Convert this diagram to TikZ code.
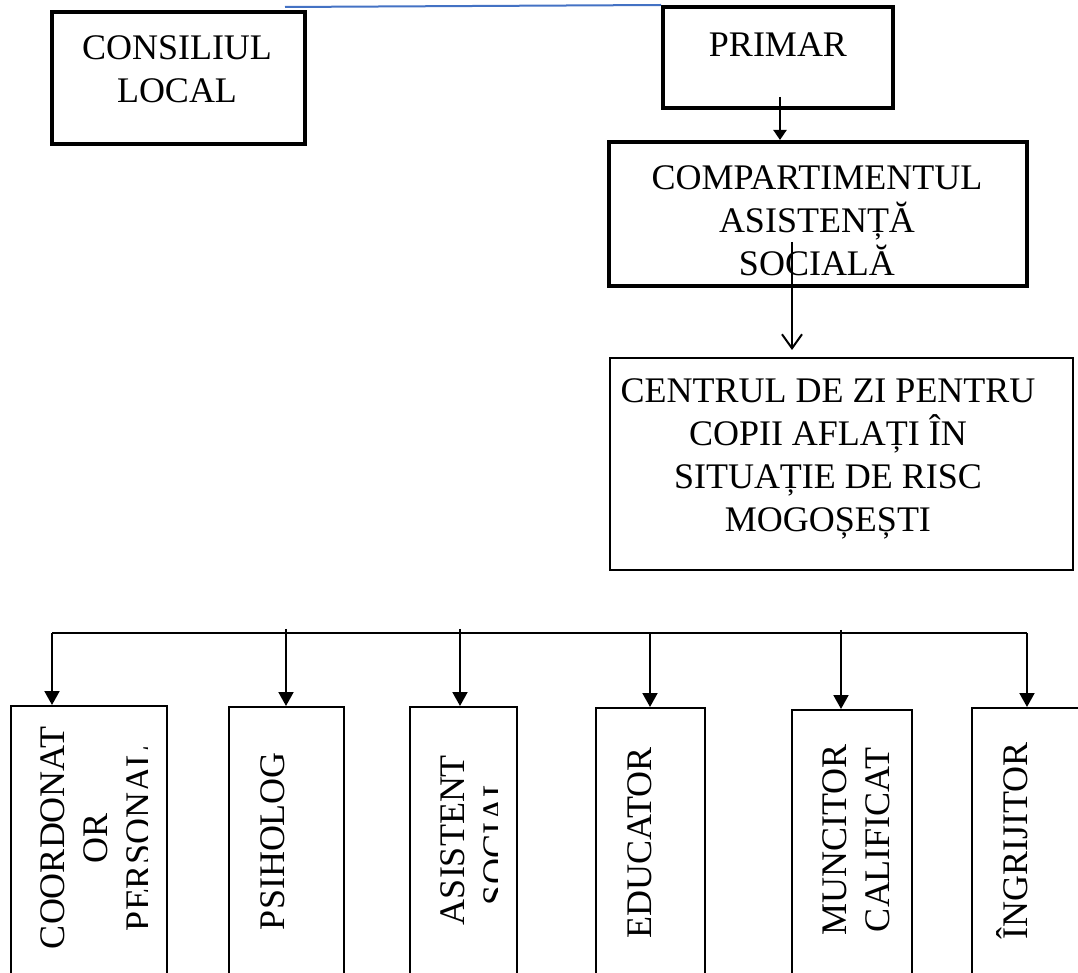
\documentclass[tikz,border=0pt]{standalone}
\usepackage{fontspec}
\setmainfont{Liberation Serif}
\usetikzlibrary{arrows.meta}

\begin{document}
\begin{tikzpicture}[x=0.5pt,y=-0.5pt,
    box/.style={draw,inner sep=0pt,line width=2pt},
    thinbox/.style={draw,inner sep=0pt,line width=1pt},
    txt/.style={inner sep=0pt,anchor=north,align=center,font=\fontsize{18}{21.5}\selectfont},
    vtxt/.style={txt,rotate=90},
    arr/.style={line width=1pt,-{Triangle[width=7.5pt,length=7pt]}}]
    \clip (0,0) rectangle (1078,973);
    % conducere
    \node[box,minimum width=126.5pt,minimum height=66pt] (consiliu) at (178.5,78) {};
    \node[txt] (consiliu-t) at (177,35) {CONSILIUL\\LOCAL};
    \node[box,minimum width=115pt,minimum height=50.5pt] (primar) at (778,57.5) {};
    \node[txt] (primar-t) at (778,32) {PRIMAR};
    \node[box,minimum width=209pt,minimum height=72pt] (comp) at (818,214) {};
    \node[txt] (comp-t) at (817,165) {COMPARTIMENTUL\\ASISTENȚĂ\\SOCIALĂ};
    \node[thinbox,minimum width=231.5pt,minimum height=106pt] (centru) at (841.5,464) {};
    \node[txt] (centru-t) at (828,378) {CENTRUL DE ZI PENTRU\\COPII AFLAȚI ÎN\\SITUAȚIE DE RISC\\MOGOȘEȘTI};
    \coordinate (bl) at (285,7);
    \draw[line width=1pt,color={rgb,255:red,68;green,114;blue,196}] (bl) -- (primar.north west);
    \coordinate (pa) at (780,97);
    \draw[line width=1pt,-{Triangle[width=6.5pt,length=5pt]}] (pa) -- (pa |- comp.north);
    \coordinate (ca) at (792,242);
    \coordinate (ce) at (792,350);
    \draw[line width=1pt,-{Straight Barb[width=10pt,length=7pt]}] (ca) -- (ce);
    % personal
    \node[thinbox,minimum width=78pt,minimum height=142pt] (s1) at (89,848) {};
    \node[thinbox,minimum width=57.5pt,minimum height=141.5pt] (s2) at (286.5,848.5) {};
    \node[thinbox,minimum width=53.5pt,minimum height=141.5pt] (s3) at (463.5,848.5) {};
    \node[thinbox,minimum width=54.5pt,minimum height=141pt] (s4) at (650.5,849) {};
    \node[thinbox,minimum width=60pt,minimum height=140pt] (s5) at (852,850) {};
    \node[thinbox,minimum width=59pt,minimum height=141pt] (s6) at (1031,849) {};
    \begin{scope}
        \clip (0,700) rectangle (147,990);
        \node[vtxt] (s1-t) at (40,838) {COORDONAT\\OR\\PERSONAL};
    \end{scope}
    \node[vtxt] (s2-t) at (260,841) {PSIHOLOG};
    \begin{scope}
        \clip (400,700) rectangle (497,990);
        \node[vtxt] (s3-t) at (440,840) {ASISTENT\\SOCIAL};
    \end{scope}
    \node[vtxt] (s4-t) at (627,843) {EDUCATOR};
    \node[vtxt] (s5-t) at (822,840) {MUNCITOR\\CALIFICAT};
    \node[vtxt] (s6-t) at (996,841) {ÎNGRIJITOR};
    % bara
    \coordinate (b1) at (52,633);
    \coordinate (b2) at (286,629);
    \coordinate (b3) at (460,629);
    \coordinate (b4) at (650,633);
    \coordinate (b5) at (841,630);
    \coordinate (b6) at (1027,633);
    \draw[line width=1pt] (b1) -- (b6);
    \foreach \i in {1,...,6}
        \draw[arr] (b\i) -- (b\i |- s\i.north);
\end{tikzpicture}
\end{document}
